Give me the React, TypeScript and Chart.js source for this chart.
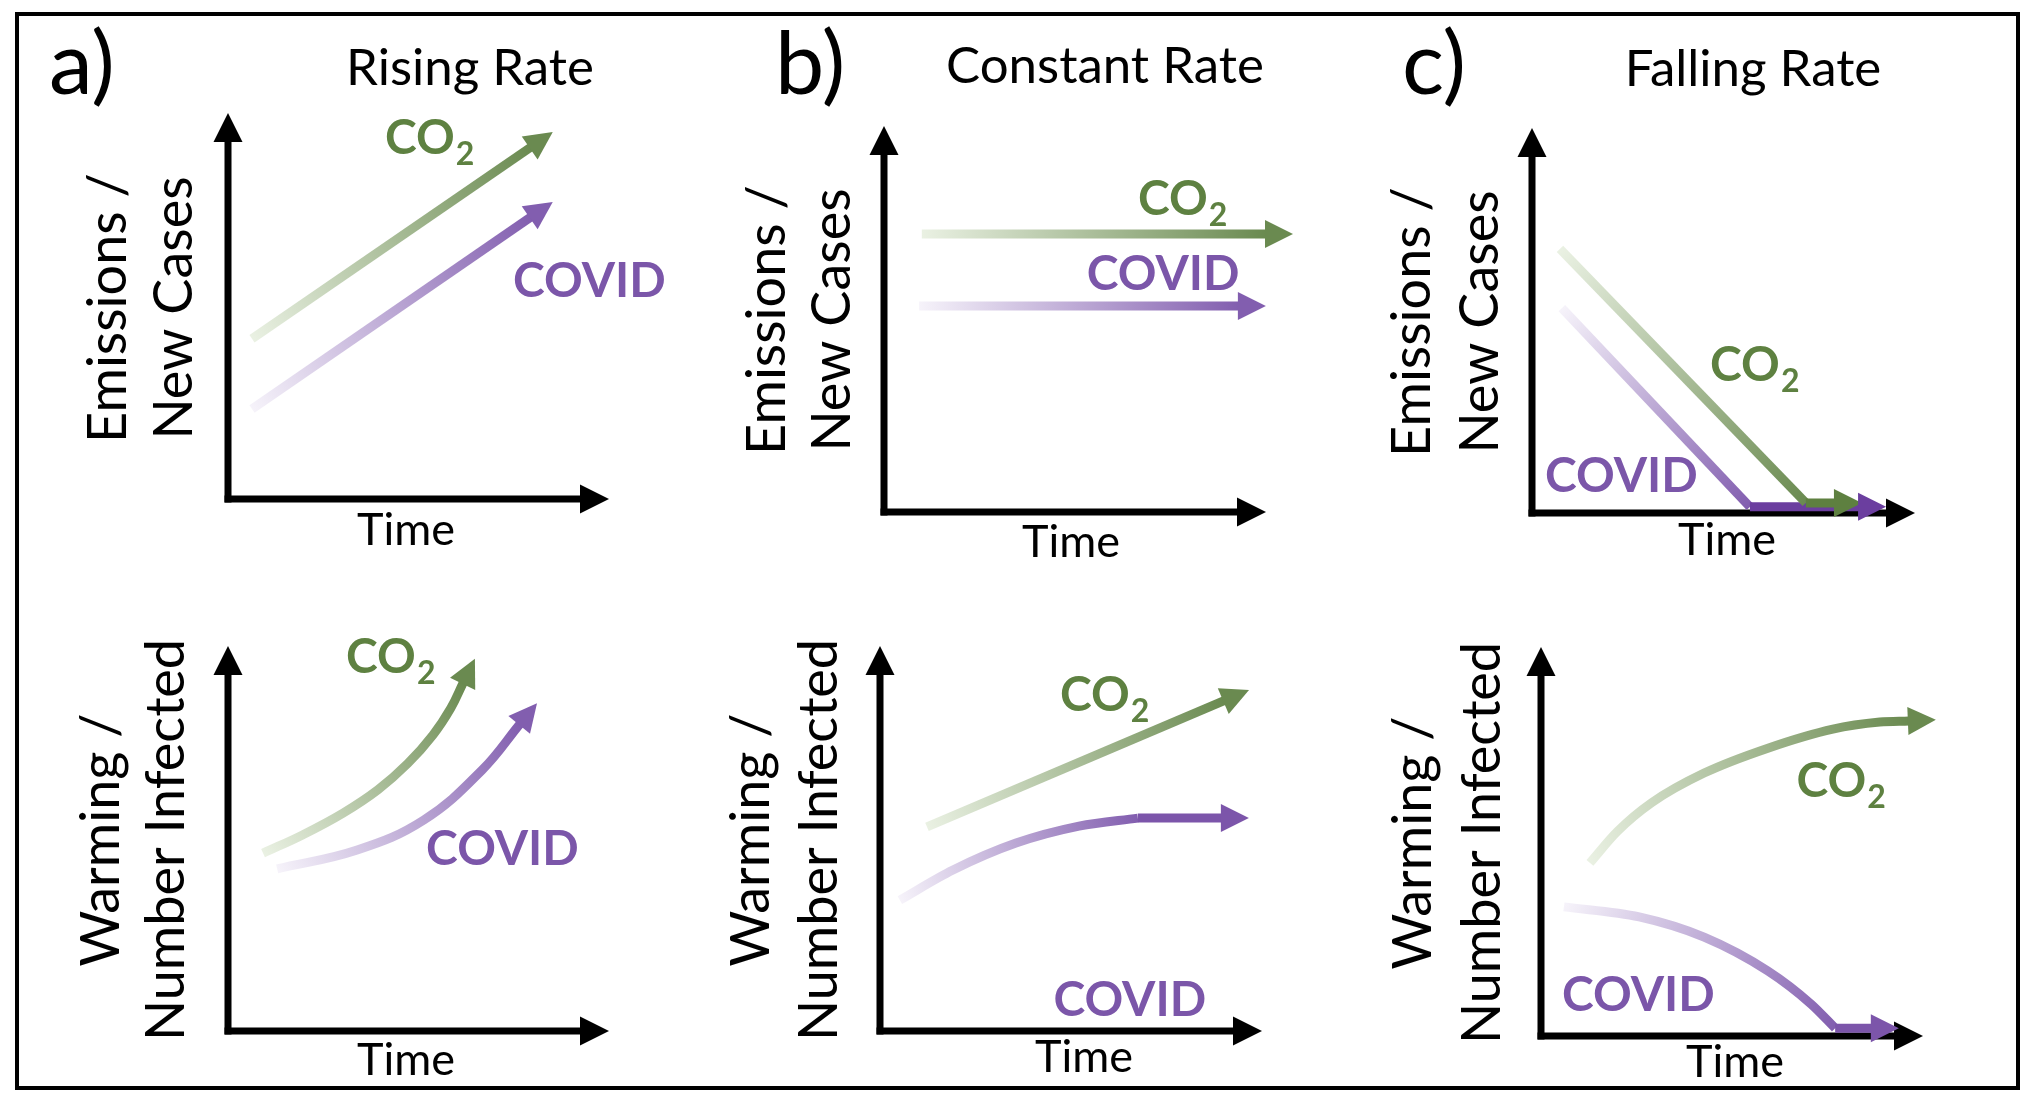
import React, { useEffect, useRef } from "react";
import { Chart, registerables } from "chart.js";

Chart.register(...registerables);

// ---------------------------------------------------------------------------
// Values. x = time (0 at the y axis, 100 at the x-axis arrow tip),
//         y = level (0 at the x axis, 100 at the y-axis arrow tip).
// The last point of every arrowed series is where the arrowhead starts.
// ---------------------------------------------------------------------------
const panelLetters = ["a)", "b)", "c)"];
const panelTitles = ["Rising Rate", "Constant Rate", "Falling Rate"];
const topAxisTitle = ["Emissions /", "New Cases"];
const bottomAxisTitle = ["Warming /", "Number Infected"];
const timeTitle = "Time";
const co2Name = ["CO", "2"];
const covidName = "COVID";

// a) Rising rate — emissions / new cases
const a1Co2X = [6.3, 79.4];
const a1Co2Y = [41.5, 91.1];
const a1CovidX = [6.3, 79.4];
const a1CovidY = [23.3, 73.0];
// b) Constant rate — emissions / new cases
const b1Co2X = [9.9, 100.0];
const b1Co2Y = [72.0, 72.0];
const b1CovidX = [9.2, 92.9];
const b1CovidY = [53.4, 53.4];
// c) Falling rate — emissions / new cases
const c1Co2X = [7.3, 71.5];
const c1Co2Y = [68.6, 2.6];
const c1Co2FlatX = [71.5, 79.1];
const c1Co2FlatY = [2.6, 2.6];
const c1CovidX = [7.8, 56.9];
const c1CovidY = [53.2, 1.6];
const c1CovidFlatX = [56.9, 85.4];
const c1CovidFlatY = [1.6, 1.6];
// a) Rising rate — warming / number infected
const a2Co2X = [9.2, 19.7, 30.2, 39.4, 47.2, 53.8, 58.5, 61.7];
const a2Co2Y = [46.2, 51.0, 56.6, 62.7, 69.5, 76.9, 83.9, 90.4];
const a2CovidX = [12.9, 33.9, 51.4, 66.7, 76.6];
const a2CovidY = [42.1, 47.0, 54.8, 67.8, 79.7];
// b) Constant rate — warming / number infected
const b2Co2X = [12.3, 90.1];
const b2Co2Y = [53.0, 85.8];
const b2CovidX = [5.2, 19.1, 35.6, 52.1, 67.5];
const b2CovidY = [34.0, 41.8, 48.8, 53.2, 55.3];
const b2CovidFlatX = [67.5, 89.5];
const b2CovidFlatY = [55.3, 55.3];
// c) Falling rate — warming / number infected
const c2Co2X = [12.8, 20.0, 29.0, 42.7, 59.4, 76.4, 88.7, 96.3];
const c2Co2Y = [44.5, 52.6, 60.0, 67.6, 74.0, 78.9, 80.7, 81.0];
const c2CovidX = [6.0, 25.7, 42.7, 59.4, 70.7, 77.0];
const c2CovidY = [33.2, 30.6, 25.4, 16.7, 8.2, 2.0];
const c2CovidFlatX = [77.0, 86.6];
const c2CovidFlatY = [2.0, 2.0];

// ---------------------------------------------------------------------------
// Styles and layout (page pixels)
// ---------------------------------------------------------------------------
const FONT = 'Lato, "Noto Sans", sans-serif';
const COLORS: any = {
  co2: { light: "#EAF1E3", dark: "#6A8A50", text: "#5E8141" },
  covid: { light: "#F6F3FA", dark: "#825EAF", text: "#7B56A9" },
};
const LINE_W = 9;
const ARROW_LEN = 27;
const ARROW_W = 28;
const AXIS_W = 7;
const AXIS_ARROW_LEN = 28;
const AXIS_ARROW_W = 29;
const LETTER_SIZE = 88;
const TITLE_SIZE = 51;
const YTITLE_SIZE = 54;
const TIME_SIZE = 45;
const NAME_SIZE = 48;
const SUB_SIZE = 32;

type Seg = {
  xs: number[];
  ys: number[];
  s: "co2" | "covid";
  fade: boolean;
  arrow: boolean;
  curve: "" | "smooth" | "monotone";
  solid?: string;
};

type PanelCfg = {
  canvas: number[]; // left, top, width, height
  box: number[]; // axis box: left, top, right, bottom
  letter?: string;
  letterPos?: number[];
  title?: string;
  titlePos?: number[];
  yTitle: string[];
  yTitlePos: number[]; // baseline x of line 1, line 2, centre y
  timePos: number[];
  co2At: number[]; // data coords of label (left, baseline)
  covidAt: number[];
  segs: Seg[];
};

const PANELS: PanelCfg[] = [
  {
    canvas: [20, 17, 680, 563],
    box: [228, 113, 609, 499],
    letter: panelLetters[0],
    letterPos: [49, 94],
    title: panelTitles[0],
    titlePos: [470, 85],
    yTitle: topAxisTitle,
    yTitlePos: [126, 192, 308],
    timePos: [406, 545],
    co2At: [41.2, 89.4],
    covidAt: [74.8, 52.3],
    segs: [
      { xs: a1Co2X, ys: a1Co2Y, s: "co2", fade: true, arrow: true, curve: "" },
      { xs: a1CovidX, ys: a1CovidY, s: "covid", fade: true, arrow: true, curve: "" },
    ],
  },
  {
    canvas: [700, 17, 665, 563],
    box: [884, 126, 1266, 512],
    letter: panelLetters[1],
    letterPos: [775, 94],
    title: panelTitles[1],
    titlePos: [1105, 83],
    yTitle: topAxisTitle,
    yTitlePos: [785, 850, 320],
    timePos: [1071, 557],
    co2At: [66.5, 76.9],
    covidAt: [53.1, 57.5],
    segs: [
      { xs: b1Co2X, ys: b1Co2Y, s: "co2", fade: true, arrow: true, curve: "" },
      { xs: b1CovidX, ys: b1CovidY, s: "covid", fade: true, arrow: true, curve: "" },
    ],
  },
  {
    canvas: [1365, 17, 648, 563],
    box: [1532, 128, 1915, 513],
    letter: panelLetters[2],
    letterPos: [1402, 94],
    title: panelTitles[2],
    titlePos: [1753, 86],
    yTitle: topAxisTitle,
    yTitlePos: [1430, 1498, 322],
    timePos: [1727, 555],
    co2At: [46.5, 34.3],
    covidAt: [3.4, 5.5],
    segs: [
      { xs: c1Co2FlatX, ys: c1Co2FlatY, s: "co2", fade: false, arrow: true, curve: "", solid: "#5E8040" },
      { xs: c1Co2X, ys: c1Co2Y, s: "co2", fade: true, arrow: false, curve: "" },
      { xs: c1CovidFlatX, ys: c1CovidFlatY, s: "covid", fade: false, arrow: true, curve: "", solid: "#6B3E9F" },
      { xs: c1CovidX, ys: c1CovidY, s: "covid", fade: true, arrow: false, curve: "" },
    ],
  },
  {
    canvas: [20, 580, 680, 505],
    box: [228, 646, 609, 1031],
    yTitle: bottomAxisTitle,
    yTitlePos: [119, 184, 840],
    timePos: [406, 1075],
    co2At: [31.0, 93.0],
    covidAt: [52.0, 43.2],
    segs: [
      { xs: a2Co2X, ys: a2Co2Y, s: "co2", fade: true, arrow: true, curve: "smooth" },
      { xs: a2CovidX, ys: a2CovidY, s: "covid", fade: true, arrow: true, curve: "smooth" },
    ],
  },
  {
    canvas: [700, 580, 665, 505],
    box: [880, 646, 1262, 1031],
    yTitle: bottomAxisTitle,
    yTitlePos: [769, 837, 840],
    timePos: [1084, 1072],
    co2At: [47.1, 83.0],
    covidAt: [45.4, 3.9],
    segs: [
      { xs: b2Co2X, ys: b2Co2Y, s: "co2", fade: true, arrow: true, curve: "" },
      { xs: b2CovidFlatX, ys: b2CovidFlatY, s: "covid", fade: false, arrow: true, curve: "", solid: "#7C55AA" },
      { xs: b2CovidX, ys: b2CovidY, s: "covid", fade: true, arrow: false, curve: "monotone" },
    ],
  },
  {
    canvas: [1365, 580, 648, 505],
    box: [1541, 647, 1923, 1036],
    yTitle: bottomAxisTitle,
    yTitlePos: [1431, 1500, 843],
    timePos: [1735, 1077],
    co2At: [66.9, 61.4],
    covidAt: [5.5, 6.4],
    segs: [
      { xs: c2Co2X, ys: c2Co2Y, s: "co2", fade: true, arrow: true, curve: "monotone" },
      { xs: c2CovidFlatX, ys: c2CovidFlatY, s: "covid", fade: false, arrow: true, curve: "", solid: "#7C55AA" },
      { xs: c2CovidX, ys: c2CovidY, s: "covid", fade: true, arrow: false, curve: "monotone" },
    ],
  },
];

// ---------------------------------------------------------------------------
function segColor(c: any, seg: Seg) {
  const col = COLORS[seg.s];
  if (!seg.fade) return seg.solid || col.dark;
  const chart = c.chart;
  const sx = chart.scales && chart.scales.x;
  const sy = chart.scales && chart.scales.y;
  if (!sx || !sy || !chart.chartArea) return col.dark;
  const n = seg.xs.length - 1;
  const x0 = sx.getPixelForValue(seg.xs[0]);
  const y0 = sy.getPixelForValue(seg.ys[0]);
  const x1 = sx.getPixelForValue(seg.xs[n]);
  const y1 = sy.getPixelForValue(seg.ys[n]);
  if (![x0, y0, x1, y1].every((v) => Number.isFinite(v))) return col.dark;
  const g = chart.ctx.createLinearGradient(x0, y0, x1, y1);
  g.addColorStop(0, col.light);
  g.addColorStop(1, col.dark);
  return g;
}

function tri(ctx: CanvasRenderingContext2D, bx: number, by: number, ux: number, uy: number, len: number, w: number) {
  const nx = -uy;
  const ny = ux;
  ctx.beginPath();
  ctx.moveTo(bx + ux * len, by + uy * len);
  ctx.lineTo(bx + nx * (w / 2) - ux, by + ny * (w / 2) - uy);
  ctx.lineTo(bx - nx * (w / 2) - ux, by - ny * (w / 2) - uy);
  ctx.closePath();
  ctx.fill();
}

function makeChart(canvas: HTMLCanvasElement, p: PanelCfg) {
  const [cx, cy, cw, ch] = p.canvas;
  const [L, T, R, B] = p.box;

  const axisPlugin = {
    id: "arrowAxes",
    beforeDatasetsDraw(chart: any) {
      const { left, top, right, bottom } = chart.chartArea;
      const ctx = chart.ctx;
      ctx.save();
      ctx.strokeStyle = "#000";
      ctx.fillStyle = "#000";
      ctx.lineWidth = AXIS_W;
      ctx.lineCap = "butt";
      ctx.beginPath();
      ctx.moveTo(left, bottom + AXIS_W / 2);
      ctx.lineTo(left, top + AXIS_ARROW_LEN - 1);
      ctx.stroke();
      ctx.beginPath();
      ctx.moveTo(left - AXIS_W / 2, bottom);
      ctx.lineTo(right - AXIS_ARROW_LEN + 1, bottom);
      ctx.stroke();
      tri(ctx, left, top + AXIS_ARROW_LEN, 0, -1, AXIS_ARROW_LEN, AXIS_ARROW_W);
      tri(ctx, right - AXIS_ARROW_LEN, bottom, 1, 0, AXIS_ARROW_LEN, AXIS_ARROW_W);
      ctx.restore();
    },
  };

  const arrowPlugin = {
    id: "arrowHeads",
    afterDatasetsDraw(chart: any) {
      const ctx = chart.ctx;
      ctx.save();
      chart.data.datasets.forEach((ds: any, i: number) => {
        if (!ds.arrow) return;
        const pts = chart.getDatasetMeta(i).data;
        const last = pts[pts.length - 1];
        const prev = pts[pts.length - 2];
        let dx = last.x - prev.x;
        let dy = last.y - prev.y;
        if (ds.curved && Number.isFinite(last.cp1x)) {
          const ddx = last.x - last.cp1x;
          const ddy = last.y - last.cp1y;
          if (Math.hypot(ddx, ddy) > 0.5) {
            dx = ddx;
            dy = ddy;
          }
        }
        const len = Math.hypot(dx, dy) || 1;
        ctx.fillStyle = ds.arrowColor;
        tri(ctx, last.x, last.y, dx / len, dy / len, ARROW_LEN, ARROW_W);
      });
      ctx.restore();
    },
  };

  const textPlugin = {
    id: "panelText",
    afterDraw(chart: any) {
      const ctx = chart.ctx;
      const X = (v: number) => v - cx;
      const Y = (v: number) => v - cy;
      ctx.save();
      ctx.fillStyle = "#000";
      ctx.textBaseline = "alphabetic";
      if (p.letter && p.letterPos) {
        ctx.font = `${LETTER_SIZE}px ${FONT}`;
        ctx.textAlign = "left";
        ctx.fillText(p.letter, X(p.letterPos[0]), Y(p.letterPos[1]));
      }
      if (p.title && p.titlePos) {
        ctx.font = `${TITLE_SIZE}px ${FONT}`;
        ctx.textAlign = "center";
        ctx.fillText(p.title, X(p.titlePos[0]), Y(p.titlePos[1]));
      }
      ctx.font = `${YTITLE_SIZE}px ${FONT}`;
      ctx.textAlign = "center";
      p.yTitle.forEach((line, i) => {
        ctx.save();
        ctx.translate(X(p.yTitlePos[i]), Y(p.yTitlePos[2]));
        ctx.rotate(-Math.PI / 2);
        ctx.fillText(line, 0, 0);
        ctx.restore();
      });
      ctx.font = `${TIME_SIZE}px ${FONT}`;
      ctx.textAlign = "center";
      ctx.fillText(timeTitle, X(p.timePos[0]), Y(p.timePos[1]));

      const sx = chart.scales.x;
      const sy = chart.scales.y;
      ctx.textAlign = "left";
      // CO2 label with subscript
      const c2x = sx.getPixelForValue(p.co2At[0]);
      const c2y = sy.getPixelForValue(p.co2At[1]);
      ctx.fillStyle = COLORS.co2.text;
      ctx.font = `bold ${NAME_SIZE}px ${FONT}`;
      ctx.fillText(co2Name[0], c2x, c2y);
      const w = ctx.measureText(co2Name[0]).width;
      ctx.font = `bold ${SUB_SIZE}px ${FONT}`;
      ctx.fillText(co2Name[1], c2x + w + 1, c2y + 11);
      // COVID label
      ctx.fillStyle = COLORS.covid.text;
      ctx.font = `bold ${NAME_SIZE}px ${FONT}`;
      ctx.fillText(covidName, sx.getPixelForValue(p.covidAt[0]), sy.getPixelForValue(p.covidAt[1]));
      ctx.restore();
    },
  };

  const datasets = p.segs.map((seg) => ({
    data: seg.xs.map((x, i) => ({ x, y: seg.ys[i] })),
    borderWidth: LINE_W,
    borderCapStyle: "butt",
    borderJoinStyle: "round",
    pointRadius: 0,
    pointHoverRadius: 0,
    fill: false,
    clip: false,
    tension: seg.curve ? 0.4 : 0,
    cubicInterpolationMode: seg.curve === "monotone" ? "monotone" : "default",
    capBezierPoints: false,
    borderColor: (c: any) => segColor(c, seg),
    arrow: seg.arrow,
    curved: !!seg.curve,
    arrowColor: seg.solid || COLORS[seg.s].dark,
  }));

  return new Chart(canvas, {
    type: "line",
    data: { datasets } as any,
    options: {
      responsive: false,
      animation: false,
      events: [],
      layout: { padding: { left: L - cx, top: T - cy, right: cx + cw - R, bottom: cy + ch - B } },
      scales: {
        x: { type: "linear", min: 0, max: 100, display: false },
        y: { type: "linear", min: 0, max: 100, display: false },
      },
      plugins: { legend: { display: false }, tooltip: { enabled: false }, title: { display: false } },
    } as any,
    plugins: [axisPlugin, arrowPlugin, textPlugin],
  });
}

function Panel({ cfg }: { cfg: PanelCfg }) {
  const ref = useRef<HTMLCanvasElement>(null);
  useEffect(() => {
    const chart = makeChart(ref.current as HTMLCanvasElement, cfg);
    return () => chart.destroy();
  }, [cfg]);
  const [cx, cy, cw, ch] = cfg.canvas;
  return (
    <canvas
      ref={ref}
      width={cw}
      height={ch}
      style={{ position: "absolute", left: cx, top: cy, width: cw, height: ch }}
    />
  );
}

export default function App() {
  return (
    <div style={{ position: "absolute", left: 0, top: 0, width: 2034, height: 1108, background: "#fff", overflow: "hidden" }}>
      <div
        style={{
          position: "absolute",
          left: 15,
          top: 12,
          width: 2005,
          height: 1078,
          border: "4px solid #000",
          boxSizing: "border-box",
        }}
      />
      {PANELS.map((p, i) => (
        <Panel key={i} cfg={p} />
      ))}
    </div>
  );
}
